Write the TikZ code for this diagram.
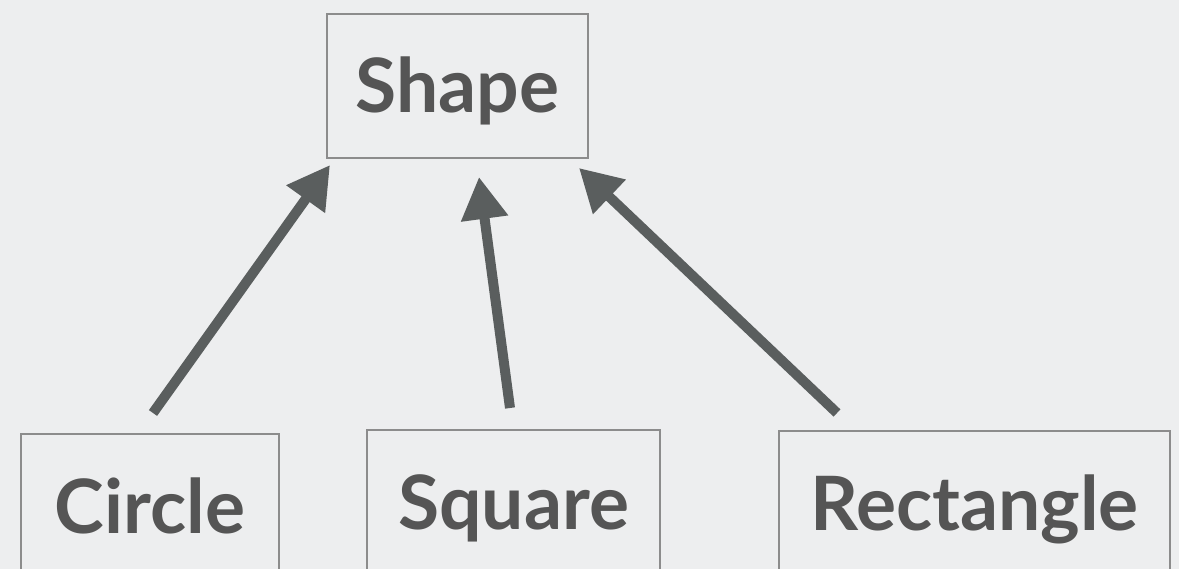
\documentclass[tikz,border=0pt]{standalone}
\usepackage{fontspec}
\setmainfont{Lato}
\usetikzlibrary{arrows.meta}
\definecolor{bg}{HTML}{EDEEEF}
\definecolor{boxline}{HTML}{8C8C8C}
\definecolor{txt}{HTML}{555555}
\definecolor{arr}{HTML}{5A5E5E}
\tikzset{
  classbox/.style={draw=boxline, line width=2pt, fill=bg, inner sep=0pt, anchor=north,
    text height=99pt, text depth=100pt, text=txt,
    font=\fontsize{75}{80}\selectfont\bfseries},
  topbox/.style={classbox, text depth=45pt},
  inherit/.style={draw=arr, line width=10pt,
    -{Triangle[length=42pt,width=45pt]}}
}
\begin{document}
\begin{tikzpicture}[x=1pt,y=-1pt]
\fill[bg] (0,0) rectangle (1179,569);
\useasboundingbox (0,0) rectangle (1179,569);
\clip (0,0) rectangle (1179,569);
\node[topbox, minimum width=261pt] (shape) at (457.5,13) {Shape};
\node[classbox, minimum width=258pt] (circle) at (150,433) {Circle};
\node[classbox, minimum width=293pt] (square) at (513.5,429) {Square};
\node[classbox, minimum width=391pt] (rect) at (974.5,430) {Rectangle};
\coordinate (t1) at (153,413);
\coordinate (h1) at (330,165);
\coordinate (t2) at (510,408);
\coordinate (h2) at (479,177);
\coordinate (t3) at (837,413);
\coordinate (h3) at (579,168);
\draw[inherit] (t1) -- (h1);
\draw[inherit] (t2) -- (h2);
\draw[inherit] (t3) -- (h3);
\end{tikzpicture}
\end{document}
